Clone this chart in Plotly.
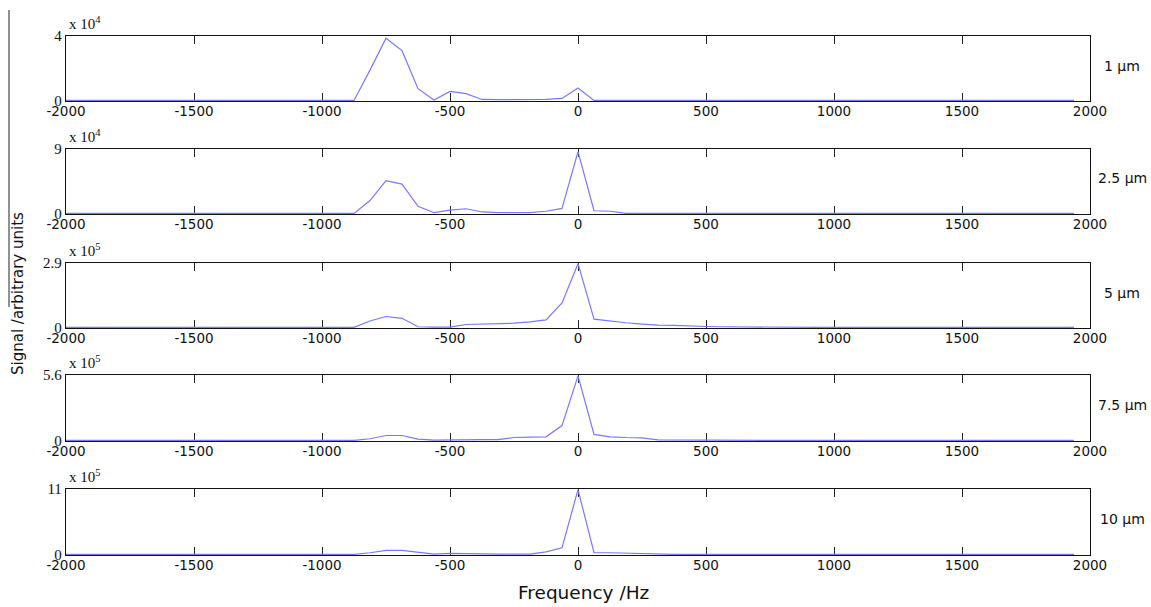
import plotly.graph_objects as go

W, H = 1151, 607

freq = [-2000, -1937.5, -1875, -1812.5, -1750, -1687.5, -1625, -1562.5,
        -1500, -1437.5, -1375, -1312.5, -1250, -1187.5, -1125, -1062.5,
        -1000, -937.5, -875, -812.5, -750, -687.5, -625, -562.5,
        -500, -437.5, -375, -312.5, -250, -187.5, -125, -62.5,
        0, 62.5, 125, 187.5, 250, 312.5, 375, 437.5,
        500, 562.5, 625, 687.5, 750, 812.5, 875, 937.5,
        1000, 1062.5, 1125, 1187.5, 1250, 1312.5, 1375, 1437.5,
        1500, 1562.5, 1625, 1687.5, 1750, 1812.5, 1875, 1937.5]

# signal values in units of the panel's multiplier (x 10^n)
sig_1um = [0]*19 + [1.88, 3.86, 3.09, 0.73, 0.02, 0.56, 0.42, 0.06, 0.05, 0.05,
                    0.05, 0.06, 0.12, 0.77, 0.0] + [0]*30
sig_2_5um = [0]*19 + [1.8, 4.57, 4.1, 1.0, 0.1, 0.46, 0.65, 0.2, 0.1, 0.1,
                      0.1, 0.3, 0.7, 8.63, 0.37, 0.3, 0.0] + [0]*28
sig_5um = [0]*19 + [0.29, 0.49, 0.41, 0.03, 0.01, 0.01, 0.13, 0.15, 0.16, 0.19,
                    0.25, 0.34, 1.1, 2.87, 0.37, 0.28, 0.21, 0.15, 0.1, 0.09,
                    0.05, 0.04, 0.03, 0.02, 0.01] + [0]*20
sig_7_5um = [0]*19 + [0.14, 0.42, 0.42, 0.11, 0.03, 0.06, 0.06, 0.06, 0.06, 0.25,
                      0.28, 0.31, 1.27, 5.52, 0.51, 0.31, 0.25, 0.22, 0.05, 0.04,
                      0.0] + [0]*24
sig_10um = [0]*19 + [0.28, 0.67, 0.67, 0.33, 0.06, 0.17, 0.11, 0.06, 0.06, 0.06,
                     0.06, 0.44, 1.11, 10.9, 0.28, 0.28, 0.2, 0.1, 0.05, 0.02,
                     0.0] + [0]*24

series = [sig_1um, sig_2_5um, sig_5um, sig_7_5um, sig_10um]
labels = ["1 µm", "2.5 µm", "5 µm", "7.5 µm", "10 µm"]
y_max = [4, 9, 2.9, 5.6, 11]
y_max_text = ["4", "9", "2.9", "5.6", "11"]
exponents = ["4", "4", "5", "5", "5"]
x_ticks = [-2000, -1500, -1000, -500, 0, 500, 1000, 1500, 2000]

# panel pixel positions (top, bottom)
panels = [(36, 101), (149, 214), (263, 328), (375, 441), (489, 555)]
x_left, x_right = 66, 1090

fig = go.Figure()
annotations = []
line_color = "#7878ff"

for i, (vals, lab) in enumerate(zip(series, labels)):
    n = i + 1
    xa = "x" if n == 1 else f"x{n}"
    ya = "y" if n == 1 else f"y{n}"
    fig.add_trace(go.Scatter(x=freq, y=vals, mode="lines",
                             line=dict(color=line_color, width=1.2),
                             xaxis=xa, yaxis=ya, showlegend=False,
                             hoverinfo="x+y"))
    top, bot = panels[i]
    ph = bot - top
    lo = -y_max[i] * 0.6 / ph
    xkey = "xaxis" if n == 1 else f"xaxis{n}"
    ykey = "yaxis" if n == 1 else f"yaxis{n}"
    fig.update_layout({
        xkey: dict(domain=[x_left / W, x_right / W], range=[-2000, 2000],
                   anchor=ya, tickvals=x_ticks, ticktext=[str(t) for t in x_ticks],
                   ticks="inside", ticklen=8, tickwidth=1.2, tickcolor="#222",
                   showline=True, linecolor="#111", linewidth=1.3,
                   mirror="allticks", showgrid=False, zeroline=False,
                   layer="below traces", automargin=False, ticklabelstandoff=-2,
                   tickfont=dict(family="DejaVu Sans", size=13.5, color="#111")),
        ykey: dict(domain=[1 - bot / H, 1 - top / H], range=[lo, y_max[i]],
                   anchor=xa, tickvals=[0, y_max[i]], ticktext=["0", y_max_text[i]],
                   ticks="", showline=True, linecolor="#111", linewidth=1.3,
                   mirror=True, showgrid=False, zeroline=False,
                   layer="below traces", automargin=False,
                   tickfont=dict(family="Liberation Serif", size=15, color="#111")),
    })
    annotations.append(dict(
        text=f"x 10<sup>{exponents[i]}</sup>", xref="paper", yref="paper",
        x=(x_left + 1) / W, y=1 - (top - 2) / H, xanchor="left", yanchor="bottom",
        showarrow=False, font=dict(family="Liberation Serif", size=15, color="#111")))
    annotations.append(dict(
        text=lab, xref="paper", yref="paper",
        x=1122 / W, y=1 - ((top + bot) / 2 - 3) / H, xanchor="center", yanchor="middle",
        showarrow=False, font=dict(family="DejaVu Sans", size=14, color="#111")))

annotations.append(dict(
    text="Frequency /Hz", xref="paper", yref="paper", x=583 / W, y=1 - 592 / H,
    xanchor="center", yanchor="middle", showarrow=False,
    font=dict(family="DejaVu Sans", size=18.5, color="#111")))
annotations.append(dict(
    text="Signal /arbitrary units", xref="paper", yref="paper", x=18 / W, y=1 - 294 / H,
    xanchor="center", yanchor="middle", showarrow=False, textangle=-90,
    font=dict(family="DejaVu Sans", size=15, color="#111")))

fig.update_layout(
    width=W, height=H, margin=dict(l=0, r=0, t=0, b=0, autoexpand=False),
    paper_bgcolor="white", plot_bgcolor="white",
    annotations=annotations,
    shapes=[dict(type="line", xref="paper", yref="paper",
                 x0=9 / W, x1=9 / W, y0=1 - 10 / H, y1=1 - 307 / H,
                 line=dict(color="#222", width=1))],
)

fig.write_html("out.html", config={"displayModeBar": False},
               post_script="document.body.style.margin='0';"
                           "document.body.style.overflow='hidden';")
